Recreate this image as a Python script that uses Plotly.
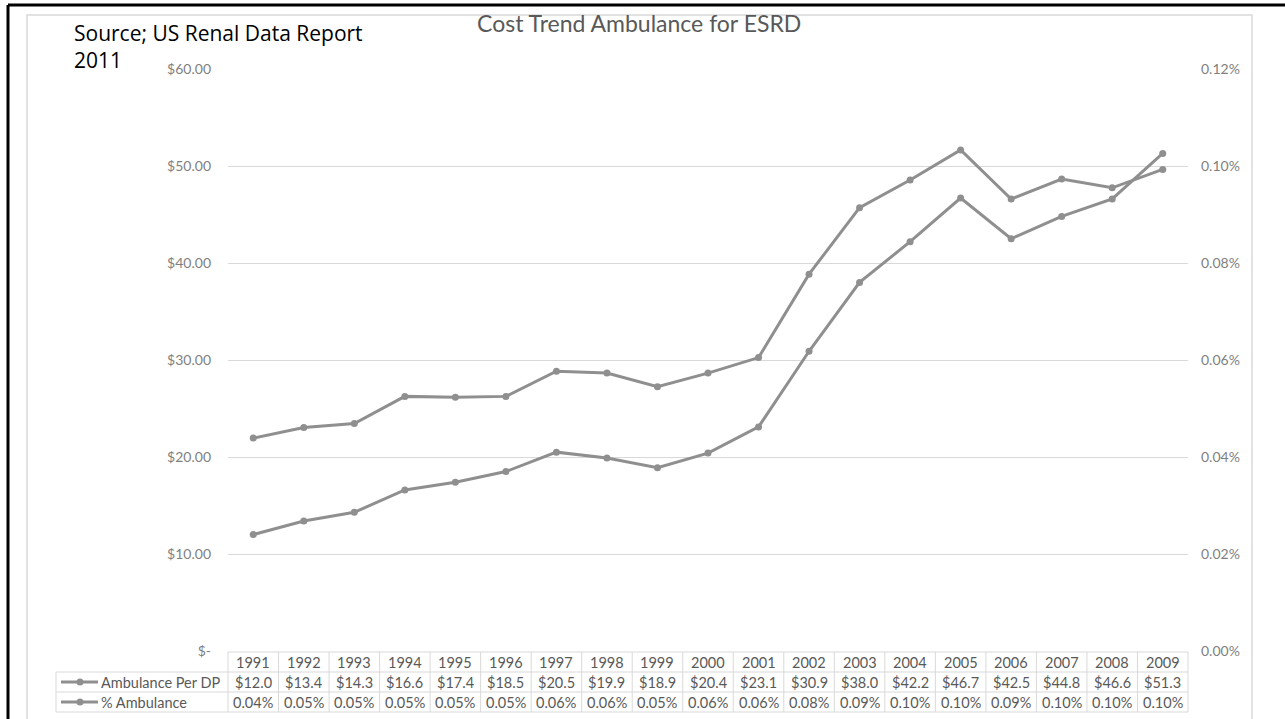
import plotly.graph_objects as go

years = [str(y) for y in range(1991, 2010)]
ambulance_per_dp = [12.0, 13.4, 14.3, 16.6, 17.4, 18.5, 20.5, 19.9, 18.9, 20.4,
                    23.1, 30.9, 38.0, 42.2, 46.7, 42.5, 44.8, 46.6, 51.3]
pct_ambulance = [0.0439, 0.0461, 0.0469, 0.0525, 0.0523, 0.0525, 0.0577, 0.0573,
                 0.0545, 0.0573, 0.0605, 0.0777, 0.0914, 0.0971, 0.1033, 0.0932,
                 0.0973, 0.0955, 0.0993]
left_tickvals = [0, 10, 20, 30, 40, 50, 60]
left_ticktext = ["$-", "$10.00", "$20.00", "$30.00", "$40.00", "$50.00", "$60.00"]
right_tickvals = [0, 0.02, 0.04, 0.06, 0.08, 0.10, 0.12]
right_ticktext = ["0.00%", "0.02%", "0.04%", "0.06%", "0.08%", "0.10%", "0.12%"]
series_names = ["Ambulance Per DP", "% Ambulance"]

W, H = 1285, 719
L, R, T, B = 228, 1188, 69, 651
LINE = "#8f8f8f"
FONT = "Lato, 'Open Sans', sans-serif"


def px(xp):
    return (xp - L) / (R - L)


def py(yp):
    return (B - yp) / (B - T)


fig = go.Figure()
fig.add_trace(go.Scatter(x=years, y=ambulance_per_dp, name=series_names[0],
                         mode="lines+markers", yaxis="y",
                         line=dict(color=LINE, width=3),
                         marker=dict(color=LINE, size=7)))
fig.add_trace(go.Scatter(x=years, y=pct_ambulance, name=series_names[1],
                         mode="lines+markers", yaxis="y2",
                         line=dict(color=LINE, width=3),
                         marker=dict(color=LINE, size=7)))

shapes = []
annotations = []
n = len(years)
grid = "#d9d9d9"

# outer frame
shapes.append(dict(type="line", xref="paper", yref="paper", x0=px(8), x1=px(W + 5),
                   y0=py(5), y1=py(5), line=dict(color="black", width=3)))
shapes.append(dict(type="line", xref="paper", yref="paper", x0=px(8), x1=px(8),
                   y0=py(5), y1=py(H + 5), line=dict(color="black", width=3)))
# inner chart box
shapes.append(dict(type="rect", xref="paper", yref="paper", x0=px(27), x1=px(1252),
                   y0=py(15), y1=py(H + 10), line=dict(color="#d9d9d9", width=1.5),
                   layer="below"))

# data table
row_tops = [652, 672, 692, 712]
col_edges = [px(L + (R - L) * i / n) for i in range(n + 1)]
left_edge = px(56)
shapes.append(dict(type="line", xref="paper", yref="paper", x0=col_edges[0], x1=col_edges[-1],
                   y0=py(row_tops[0]), y1=py(row_tops[0]), line=dict(color=grid, width=1)))
for yy in row_tops[1:]:
    shapes.append(dict(type="line", xref="paper", yref="paper", x0=left_edge, x1=col_edges[-1],
                       y0=py(yy), y1=py(yy), line=dict(color=grid, width=1)))
for xe in col_edges:
    shapes.append(dict(type="line", xref="paper", yref="paper", x0=xe, x1=xe,
                       y0=py(row_tops[0]), y1=py(row_tops[-1]), line=dict(color=grid, width=1)))
shapes.append(dict(type="line", xref="paper", yref="paper", x0=left_edge, x1=left_edge,
                   y0=py(row_tops[1]), y1=py(row_tops[-1]), line=dict(color=grid, width=1)))

tfont = dict(family=FONT, size=14.5, color="#595959")
row_texts = [years,
             [f"${v:.1f}" for v in ambulance_per_dp],
             [f"{v:.2f}%" for v in pct_ambulance]]
for r, texts in enumerate(row_texts):
    yc = py((row_tops[r] + row_tops[r + 1]) / 2 + 0.5)
    for i, t in enumerate(texts):
        annotations.append(dict(x=i, xref="x", y=yc, yref="paper", text=t,
                                showarrow=False, font=tfont, xanchor="center", yanchor="middle"))

# legend keys in table
for r, name in enumerate(series_names):
    ymid = (row_tops[r + 1] + row_tops[r + 2]) / 2
    shapes.append(dict(type="line", xref="paper", yref="paper", x0=px(61), x1=px(98),
                       y0=py(ymid), y1=py(ymid), line=dict(color=LINE, width=3)))
    shapes.append(dict(type="circle", xref="paper", yref="paper", x0=px(76.5), x1=px(83.5),
                       y0=py(ymid - 3.5), y1=py(ymid + 3.5), fillcolor=LINE,
                       line=dict(color=LINE, width=0)))
    annotations.append(dict(x=px(99), xref="paper", y=py(ymid + 0.5), yref="paper", text=name,
                            showarrow=False, font=tfont, xanchor="left", yanchor="middle"))

# title
annotations.append(dict(x=px(639), xref="paper", y=py(23), yref="paper",
                        text="Cost Trend Ambulance for ESRD", showarrow=False,
                        font=dict(family=FONT, size=23, color="#595959"),
                        xanchor="center", yanchor="middle"))
# source note
annotations.append(dict(x=px(72), xref="paper", y=py(17), yref="paper",
                        text="Source; US Renal Data Report<br>2011", showarrow=False,
                        align="left", font=dict(family="Open Sans, sans-serif", size=21, color="black"),
                        xanchor="left", yanchor="top"))

fig.update_layout(
    width=W, height=H,
    margin=dict(l=L, r=W - R, t=T, b=H - B),
    paper_bgcolor="white", plot_bgcolor="white",
    showlegend=False,
    xaxis=dict(type="category", range=[-0.5, n - 0.5], showticklabels=False,
               showgrid=False, zeroline=False, showline=False, ticks=""),
    yaxis=dict(range=[0, 60], tickvals=left_tickvals, ticktext=left_ticktext,
               showgrid=True, gridcolor=grid, gridwidth=1, zeroline=False,
               showline=False, ticks="", ticklabelstandoff=16,
               tickfont=dict(family=FONT, size=14, color="#7f7f7f")),
    yaxis2=dict(range=[0, 0.12], tickvals=right_tickvals, ticktext=right_ticktext,
                overlaying="y", side="right", showgrid=False, zeroline=False,
                showline=False, ticks="", ticklabelstandoff=12,
                tickfont=dict(family=FONT, size=14, color="#7f7f7f")),
    shapes=shapes, annotations=annotations,
)

fig.write_html("out.html", config={"displayModeBar": False},
               post_script="document.body.style.margin='0';document.body.style.overflow='hidden';")
